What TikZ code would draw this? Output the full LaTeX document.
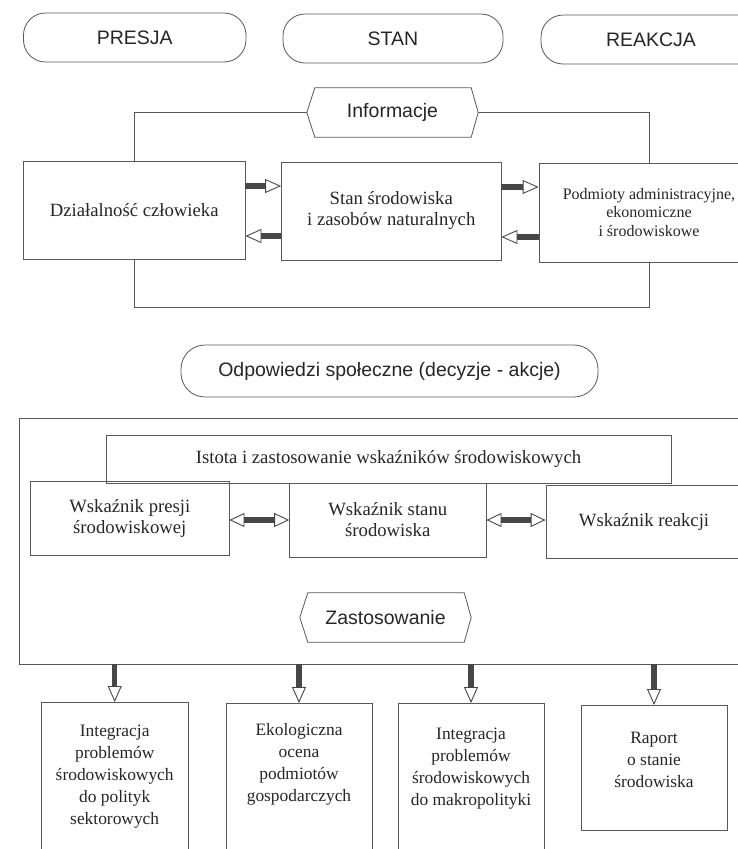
\documentclass[tikz,border=0pt]{standalone}
\usepackage{fontspec}
\setmainfont{Liberation Serif}
\newfontfamily\sansf{Liberation Sans}
\usetikzlibrary{arrows.meta,calc}
\begin{document}
\begin{tikzpicture}[x=1pt,y=-1pt,
 line/.style={draw=black!65, line width=0.8pt},
 pill/.style={line, rounded corners=22pt, font=\sansf\fontsize{19.5}{22}\selectfont, text=black!85, inner sep=0pt},
 box/.style={line, inner sep=0pt, align=center, text=black!85, font=\fontsize{18.7}{21}\selectfont},
 hexlabel/.style={inner sep=0pt, font=\sansf\fontsize{19.5}{22}\selectfont, text=black!85},
 bigarrow/.style={draw=black!72, line width=5.5pt, -{Triangle[length=16pt 0,width=14pt 0,line width=0.9pt 0,fill=white]}},
 dblarrow/.style={draw=black!72, line width=5.5pt, {Triangle[length=15pt 0,width=14pt 0,line width=0.9pt 0,fill=white]}-{Triangle[length=15pt 0,width=14pt 0,line width=0.9pt 0,fill=white]}},
 smalltext/.style={text=black!85, align=center, inner sep=0pt, font=\fontsize{17.4}{22}\selectfont}
]
\useasboundingbox (0,0) rectangle (738,849);
\clip (0,0) rectangle (738,849);
\fill[white] (0,0) rectangle (738,849);

% top row
\node[pill, minimum width=222.5pt, minimum height=49pt] (presja) at (134.75,37.5) {PRESJA};
\node[pill, minimum width=220pt, minimum height=49pt] (stan) at (393,38.5) {STAN};
\node[pill, minimum width=220pt, minimum height=49pt] (reakcja) at (651,39.5) {REAKCJA};

% Informacje
\node[hexlabel, minimum width=171pt, minimum height=49pt] (info) at (392.5,112.5) {Informacje};
\draw[line] (info.west) -- ([xshift=8pt]info.north west) -- ([xshift=-7pt]info.north east) -- (info.east) -- ([xshift=-7pt]info.south east) -- ([xshift=8pt]info.south west) -- cycle;

\node[box, minimum width=221.5pt, minimum height=98pt] (dz) at (134.25,210) {Działalność człowieka};
\node[box, minimum width=219.5pt, minimum height=98pt] (st) at (391.25,211) {Stan środowiska\\i zasobów naturalnych};
\node[box, minimum width=220pt, minimum height=99pt, font=\fontsize{16}{18.3}\selectfont] (pm) at (649,212.5) {Podmioty administracyjne,\\ekonomiczne\\i środowiskowe};

\draw[line] (info.west) -| (dz.north);
\draw[line] (info.east) -| (pm.north);
\draw[line] (dz.south) -- ++(0,48) -| (pm.south);

\draw[bigarrow] ([yshift=24pt]dz.east) -- ([yshift=24pt]dz.east -| st.west);
\draw[bigarrow] ([yshift=-25pt]st.west) -- ([yshift=-25pt]st.west -| dz.east);
\draw[bigarrow] ([yshift=24pt]st.east) -- ([yshift=24pt]st.east -| pm.west);
\draw[bigarrow] ([yshift=-24.5pt]pm.west) -- ([yshift=-24.5pt]pm.west -| st.east);

% Odpowiedzi
\node[pill, rounded corners=24pt, minimum width=417pt, minimum height=52pt] (odp) at (389.5,371) {Odpowiedzi społeczne (decyzje - akcje)};

% frame
\node[line, minimum width=741pt, minimum height=246pt, inner sep=0pt] (frame) at (389.5,541) {};
\node[box, minimum width=565pt, minimum height=48pt] (ist) at (388.5,459) {Istota i zastosowanie wskaźników środowiskowych};
\node[box, minimum width=198.4pt, minimum height=74pt] (wp) at (129.8,518) {Wskaźnik presji\\środowiskowej};
\node[box, minimum width=196.5pt, minimum height=74pt] (ws) at (387.75,520) {Wskaźnik stanu\\środowiska};
\node[box, minimum width=196pt, minimum height=73pt] (wr) at (644,521.5) {Wskaźnik reakcji};
\draw[dblarrow] (ws.west -| wp.east) -- (ws.west);
\draw[dblarrow] (ws.east) -- (ws.east -| wr.west);

\node[hexlabel, minimum width=171pt, minimum height=49pt] (zast) at (385.5,617.5) {Zastosowanie};
\draw[line] (zast.west) -- ([xshift=8pt]zast.north west) -- ([xshift=-7pt]zast.north east) -- (zast.east) -- ([xshift=-7pt]zast.south east) -- ([xshift=8pt]zast.south west) -- cycle;

% bottom boxes
\node[line, minimum width=146.6pt, minimum height=170pt, anchor=north, inner sep=0pt] (b1) at (114.7,702) {};
\node[line, minimum width=146pt, minimum height=170pt, anchor=north, inner sep=0pt] (b2) at (299,703) {};
\node[line, minimum width=146pt, minimum height=170pt, anchor=north, inner sep=0pt] (b3) at (471,703) {};
\node[line, minimum width=146pt, minimum height=125pt, anchor=north, inner sep=0pt] (b4) at (654,705) {};
\node[smalltext] (t1) at (b1.north |- 0,777) {Integracja\\problemów\\środowiskowych\\do polityk\\sektorowych};
\node[smalltext] (t2) at (b2.north |- 0,764) {Ekologiczna\\ocena\\podmiotów\\gospodarczych};
\node[smalltext] (t3) at (b3.north |- 0,769) {Integracja\\problemów\\środowiskowych\\do makropolityki};
\node[smalltext] (t4) at (b4.north |- 0,760) {Raport\\o stanie\\środowiska};

\draw[bigarrow] (b1.north |- frame.south) -- (b1.north);
\draw[bigarrow] (b2.north |- frame.south) -- (b2.north);
\draw[bigarrow] (b3.north |- frame.south) -- (b3.north);
\draw[bigarrow] (b4.north |- frame.south) -- (b4.north);
\end{tikzpicture}
\end{document}
